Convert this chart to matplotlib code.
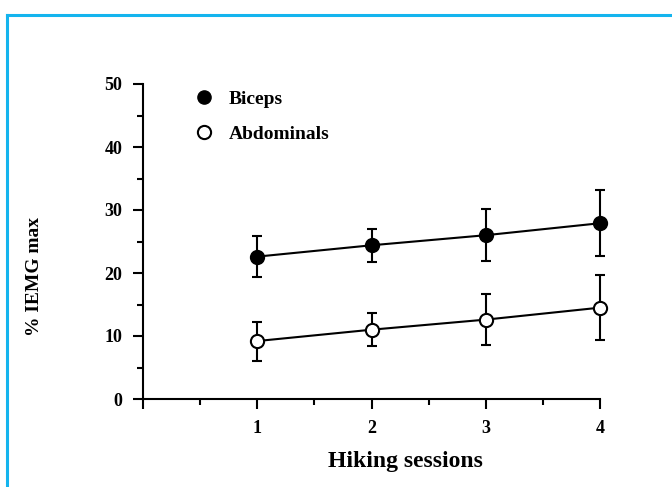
import matplotlib
matplotlib.use('Agg')
import matplotlib.pyplot as plt
from matplotlib.lines import Line2D
import numpy as np

sessions = [1, 2, 3, 4]
biceps = [22.6, 24.4, 26.0, 27.9]
biceps_err = [3.2, 2.6, 4.1, 5.2]
abdominals = [9.2, 11.0, 12.6, 14.5]
abdominals_err = [3.1, 2.6, 4.1, 5.2]
xtick_labels = ['', '1', '2', '3', '4']

plt.rcParams['font.family'] = ['Liberation Serif', 'DejaVu Serif']
plt.rcParams['font.weight'] = 'bold'

fig = plt.figure(figsize=(6.72, 4.87), dpi=100)
ax = fig.add_axes([143/672, 1 - 399/487, 457/672, 315/487])

for vals, errs, face, name in [(biceps, biceps_err, 'black', 'Biceps'),
                               (abdominals, abdominals_err, 'white', 'Abdominals')]:
    cont = ax.errorbar(sessions, vals, yerr=errs, fmt='-o', color='black',
                       markerfacecolor=face, markeredgecolor='black',
                       markersize=9.5, markeredgewidth=1.5, linewidth=1.5,
                       elinewidth=1.5, capsize=3.6, capthick=1.5,
                       label=name, zorder=3)
    for art in cont.get_children():
        art.set_clip_on(False)

ax.set_xlim(0, 4)
ax.set_ylim(0, 50)
ax.set_xticks(range(0, 5))
ax.set_xticklabels(xtick_labels)
ax.set_xticks(np.arange(0.5, 4, 1), minor=True)
ax.set_yticks(range(0, 51, 10))
ax.set_yticks(range(5, 50, 10), minor=True)

for s in ['top', 'right']:
    ax.spines[s].set_visible(False)
for s in ['left', 'bottom']:
    ax.spines[s].set_linewidth(1.5)

ax.tick_params(which='major', direction='out', length=7, width=1.5,
               labelsize=13, pad=8)
ax.tick_params(which='minor', direction='out', length=4, width=1.5)
for lab in ax.get_xticklabels() + ax.get_yticklabels():
    lab.set_fontweight('bold')

ax.set_xlabel('Hiking sessions', fontsize=17, fontweight='bold')
ax.xaxis.set_label_coords(0.575, -0.165)
ax.set_ylabel('% IEMG max', fontsize=14, fontweight='bold')
ax.yaxis.set_label_coords(-0.219, 0.39)

handles = [Line2D([], [], linestyle='none', marker='o', markersize=9.5,
                  markerfacecolor='black', markeredgecolor='black'),
           Line2D([], [], linestyle='none', marker='o', markersize=9.5,
                  markerfacecolor='white', markeredgecolor='black',
                  markeredgewidth=1.5)]
leg = ax.legend(handles, ['Biceps', 'Abdominals'], loc='upper left',
                bbox_to_anchor=(0.075, 1.035), frameon=False,
                handlelength=1.0, handletextpad=0.75, labelspacing=0.9,
                prop={'weight': 'bold', 'size': 14})

# light blue frame of the original figure box
blue = '#14B4EE'
fig.add_artist(Line2D([7/672, 1], [1 - 15/487, 1 - 15/487], color=blue,
                      linewidth=2.2, transform=fig.transFigure))
fig.add_artist(Line2D([7/672, 7/672], [0, 1 - 15/487], color=blue,
                      linewidth=2.2, transform=fig.transFigure))

fig.savefig('out.png', dpi=100)
